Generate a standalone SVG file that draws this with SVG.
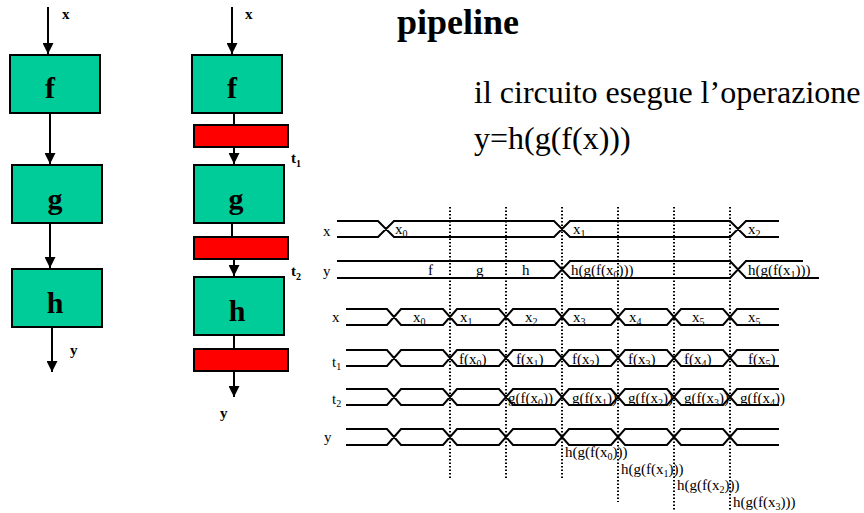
<svg xmlns="http://www.w3.org/2000/svg" xmlns:xlink="http://www.w3.org/1999/xlink" width="864" height="513" viewBox="0 0 864 513">
  <style>
    text { font-family: "Liberation Serif", "Times New Roman", serif; fill: #000; }
    .stage { fill: #00CC99; stroke: #000; stroke-width: 2; }
    .reg { fill: #FF0000; stroke: #000; stroke-width: 2; }
    .blk { font-size: 30px; font-weight: bold; text-anchor: middle; }
    .sig { font-size: 15px; font-weight: bold; }
    .wire { stroke: #000; stroke-width: 2; fill: none; }
    .bus { stroke: #000; stroke-width: 2; fill: none; }
    .grid { stroke: #000; stroke-width: 2; stroke-dasharray: 1.5 2; fill: none; }
    .lbl { font-size: 15px; }
    .title { font-size: 36px; font-weight: bold; }
    .body { font-size: 32px; }
  </style>
  <defs>
    <marker id="arrow" markerWidth="11" markerHeight="11" refX="11" refY="5.5" orient="auto" markerUnits="userSpaceOnUse">
      <path d="M0,0 L11,5.5 L0,11 z" fill="#000"/>
    </marker>
    <!-- bus waveform with seven transitions, 16px high -->
    <path id="bus7" class="bus" d="M346,0 H387 L401,16 H443 L457,0 H499 L513,16 H555 L569,0 H611 L625,16 H667 L681,0 H723 L737,16 H779 M346,16 H387 L401,0 H443 L457,16 H499 L513,0 H555 L569,16 H611 L625,0 H667 L681,16 H723 L737,0 H779"/>
  </defs>

  <!-- headings -->
  <text class="title" x="397" y="34">pipeline</text>
  <text class="body" x="474" y="103">il circuito esegue l’operazione</text>
  <text class="body" x="474" y="149">y=h(g(f(x)))</text>

  <!-- connectors -->
  <g id="connectors">
    <line class="wire" x1="48" y1="7" x2="48" y2="54" marker-end="url(#arrow)"/>
    <line class="wire" x1="50" y1="113" x2="50" y2="164" marker-end="url(#arrow)"/>
    <line class="wire" x1="50" y1="223" x2="50" y2="268" marker-end="url(#arrow)"/>
    <line class="wire" x1="52" y1="327" x2="52" y2="372" marker-end="url(#arrow)"/>

    <line class="wire" x1="232" y1="7" x2="232" y2="54" marker-end="url(#arrow)"/>
    <line class="wire" x1="234" y1="113" x2="234" y2="125"/>
    <line class="wire" x1="234" y1="147" x2="234" y2="164" marker-end="url(#arrow)"/>
    <line class="wire" x1="232" y1="223" x2="232" y2="237"/>
    <line class="wire" x1="234" y1="259" x2="234" y2="276" marker-end="url(#arrow)"/>
    <line class="wire" x1="234" y1="335" x2="234" y2="349"/>
    <line class="wire" x1="234" y1="371" x2="234" y2="397" marker-end="url(#arrow)"/>
  </g>

  <!-- combinational datapath -->
  <text class="sig" x="62" y="19">x</text>
  <g id="f1"><rect class="stage" x="10" y="55" width="90" height="58"/><text class="blk" x="50" y="98">f</text></g>
  <g id="g1"><rect class="stage" x="12" y="165" width="90" height="58"/><text class="blk" x="55" y="209">g</text></g>
  <g id="h1"><rect class="stage" x="12" y="269" width="90" height="58"/><text class="blk" x="55" y="313">h</text></g>
  <text class="sig" x="70" y="355">y</text>

  <!-- pipelined datapath -->
  <text class="sig" x="245" y="19">x</text>
  <g id="f2"><rect class="stage" x="192" y="55" width="90" height="58"/><text class="blk" x="232" y="98">f</text></g>
  <g id="r1"><rect class="reg" x="194" y="125" width="94" height="22"/></g>
  <text class="sig" x="291" y="163">t<tspan font-size="10" dy="4">1</tspan></text>
  <g id="g2"><rect class="stage" x="194" y="165" width="90" height="58"/><text class="blk" x="236" y="209">g</text></g>
  <g id="r2"><rect class="reg" x="194" y="237" width="94" height="22"/></g>
  <text class="sig" x="291" y="276">t<tspan font-size="10" dy="4">2</tspan></text>
  <g id="h2"><rect class="stage" x="194" y="277" width="90" height="58"/><text class="blk" x="237" y="321">h</text></g>
  <g id="r3"><rect class="reg" x="194" y="349" width="94" height="22"/></g>
  <text class="sig" x="220" y="418">y</text>

  <!-- clock edges -->
  <g id="edges">
    <line class="grid" x1="450" y1="207" x2="450" y2="478"/>
    <line class="grid" x1="506" y1="207" x2="506" y2="478"/>
    <line class="grid" x1="562" y1="207" x2="562" y2="478"/>
    <line class="grid" x1="618" y1="207" x2="618" y2="502"/>
    <line class="grid" x1="674" y1="207" x2="674" y2="510"/>
    <line class="grid" x1="730" y1="207" x2="730" y2="510"/>
  </g>

  <!-- timing: combinational circuit -->
  <g id="timing-comb">
    <path class="bus" d="M337,221 H378 L394,237 H554 L570,221 H730 L746,237 H779 M337,237 H378 L394,221 H554 L570,237 H730 L746,221 H779"/>
    <path class="bus" d="M337,261 H554 L570,278 H730 L746,261 H803 M337,278 H554 L570,261 H730 L746,278 H819"/>
    <text class="lbl" x="323" y="236">x</text>
    <text class="lbl" x="323" y="276">y</text>
    <text class="lbl" x="395" y="234">x<tspan font-size="10" dy="3">0</tspan></text>
    <text class="lbl" x="573" y="234">x<tspan font-size="10" dy="3">1</tspan></text>
    <text class="lbl" x="748" y="234">x<tspan font-size="10" dy="3">2</tspan></text>
    <text class="lbl" x="428" y="275">f</text>
    <text class="lbl" x="476" y="275">g</text>
    <text class="lbl" x="522" y="275">h</text>
    <text class="lbl" x="571" y="275">h(g(f(x<tspan font-size="10" dy="3">0</tspan><tspan dy="-3">)))</tspan></text>
    <text class="lbl" x="748" y="275">h(g(f(x<tspan font-size="10" dy="3">1</tspan><tspan dy="-3">)))</tspan></text>
  </g>

  <!-- timing: pipelined circuit -->
  <g id="timing-pipe">
    <use xlink:href="#bus7" y="309"/>
    <use xlink:href="#bus7" y="350"/>
    <use xlink:href="#bus7" y="389"/>
    <use xlink:href="#bus7" y="429"/>

    <text class="lbl" x="332" y="322">x</text>
    <text class="lbl" x="332" y="367">t<tspan font-size="10" dy="3">1</tspan></text>
    <text class="lbl" x="332" y="404">t<tspan font-size="10" dy="3">2</tspan></text>
    <text class="lbl" x="324" y="442">y</text>

    <text class="lbl" x="413" y="322">x<tspan font-size="10" dy="3">0</tspan></text>
    <text class="lbl" x="460" y="322">x<tspan font-size="10" dy="3">1</tspan></text>
    <text class="lbl" x="525" y="322">x<tspan font-size="10" dy="3">2</tspan></text>
    <text class="lbl" x="573" y="322">x<tspan font-size="10" dy="3">3</tspan></text>
    <text class="lbl" x="629" y="322">x<tspan font-size="10" dy="3">4</tspan></text>
    <text class="lbl" x="692" y="322">x<tspan font-size="10" dy="3">5</tspan></text>
    <text class="lbl" x="748" y="322">x<tspan font-size="10" dy="3">5</tspan></text>

    <text class="lbl" x="459" y="364">f(x<tspan font-size="10" dy="3">0</tspan><tspan dy="-3">)</tspan></text>
    <text class="lbl" x="516" y="364">f(x<tspan font-size="10" dy="3">1</tspan><tspan dy="-3">)</tspan></text>
    <text class="lbl" x="572" y="364">f(x<tspan font-size="10" dy="3">2</tspan><tspan dy="-3">)</tspan></text>
    <text class="lbl" x="628" y="364">f(x<tspan font-size="10" dy="3">3</tspan><tspan dy="-3">)</tspan></text>
    <text class="lbl" x="684" y="364">f(x<tspan font-size="10" dy="3">4</tspan><tspan dy="-3">)</tspan></text>
    <text class="lbl" x="748" y="364">f(x<tspan font-size="10" dy="3">5</tspan><tspan dy="-3">)</tspan></text>

    <text class="lbl" x="508" y="403">g(f(x<tspan font-size="10" dy="3">0</tspan><tspan dy="-3">))</tspan></text>
    <text class="lbl" x="572" y="403">g(f(x<tspan font-size="10" dy="3">1</tspan><tspan dy="-3">))</tspan></text>
    <text class="lbl" x="628" y="403">g(f(x<tspan font-size="10" dy="3">2</tspan><tspan dy="-3">))</tspan></text>
    <text class="lbl" x="684" y="403">g(f(x<tspan font-size="10" dy="3">3</tspan><tspan dy="-3">))</tspan></text>
    <text class="lbl" x="740" y="403">g(f(x<tspan font-size="10" dy="3">4</tspan><tspan dy="-3">))</tspan></text>

    <text class="lbl" x="565" y="457">h(g(f(x<tspan font-size="10" dy="3">0</tspan><tspan dy="-3">)))</tspan></text>
    <text class="lbl" x="621" y="474">h(g(f(x<tspan font-size="10" dy="3">1</tspan><tspan dy="-3">)))</tspan></text>
    <text class="lbl" x="677" y="490">h(g(f(x<tspan font-size="10" dy="3">2</tspan><tspan dy="-3">)))</tspan></text>
    <text class="lbl" x="733" y="507">h(g(f(x<tspan font-size="10" dy="3">3</tspan><tspan dy="-3">)))</tspan></text>
  </g>
</svg>
